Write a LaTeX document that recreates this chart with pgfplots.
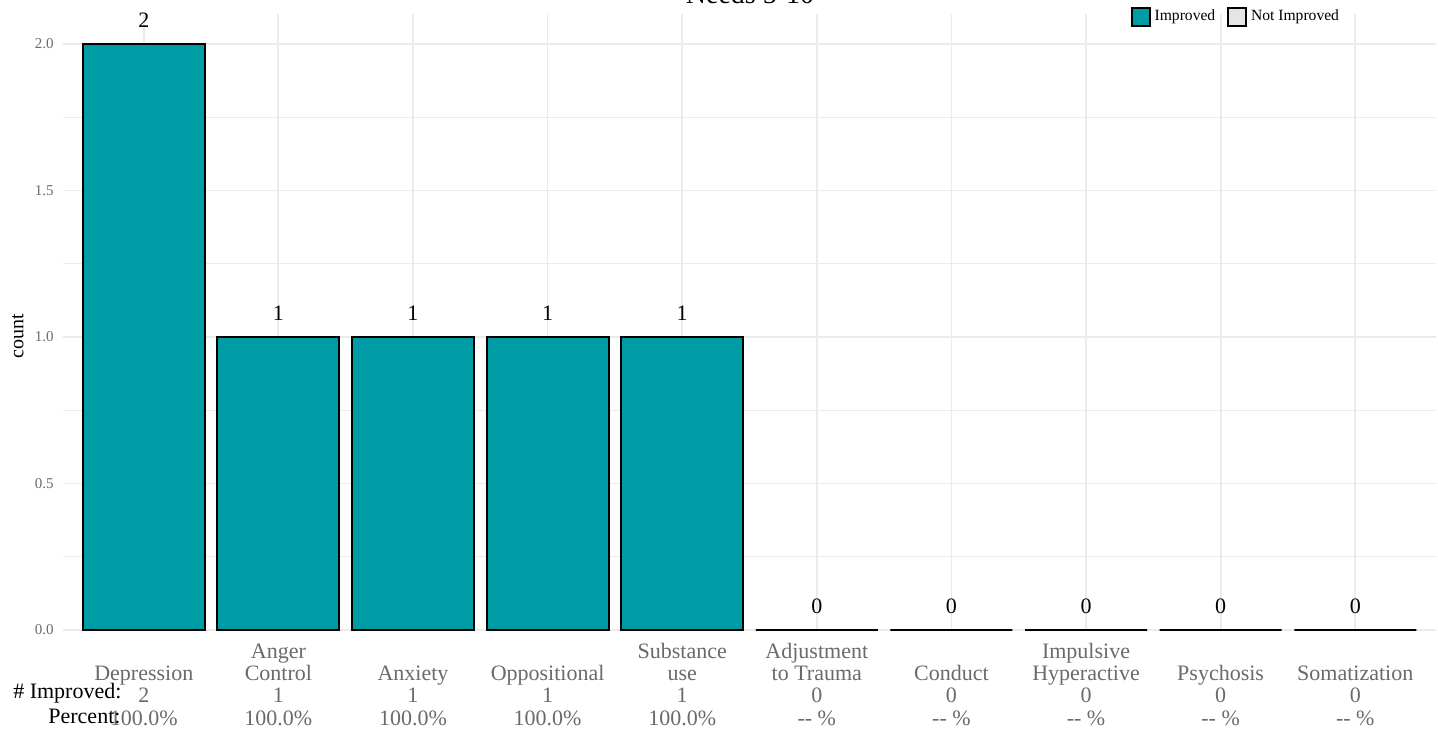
\documentclass[border=0pt]{standalone}
\usepackage{fontspec}
\setmainfont{Liberation Serif}
\usepackage{pgfplots}
\pgfplotsset{compat=1.18}
\definecolor{teal1}{HTML}{009CA6}
\definecolor{notimp}{HTML}{E5E5E5}
\definecolor{gridc}{HTML}{EBEBEB}
\definecolor{tickc}{HTML}{6A6A6A}
\pgfplotsset{mylegend/.style={legend image code/.code={\draw[##1, line width=0.9pt] (0pt,-4.5pt) rectangle (9pt,4.5pt);}}}
\begin{document}
\begin{tikzpicture}
\useasboundingbox (0,0) rectangle (719pt,367pt);
\node[anchor=base, font=\fontsize{14}{16}\selectfont] at (375pt,365pt) {Needs 5-10};
\begin{axis}[
  at={(31.5pt,52pt)}, anchor=south west,
  scale only axis, width=686.5pt, height=308pt,
  xmin=0.4, xmax=10.6, ymin=0, ymax=2.102,
  clip=false,
  ybar, bar width=61pt,
  axis line style={draw=none},
  major tick style={draw=none}, minor tick style={draw=none},
  xtick={1,2,3,4,5,6,7,8,9,10},
  xticklabels={
    {\strut\\Depression\\2\\100.0\%},
    {\strut Anger\\Control\\1\\100.0\%},
    {\strut\\Anxiety\\1\\100.0\%},
    {\strut\\Oppositional\\1\\100.0\%},
    {\strut Substance\\use\\1\\100.0\%},
    {\strut Adjustment\\to Trauma\\0\\-{}- \%},
    {\strut\\Conduct\\0\\-{}- \%},
    {\strut Impulsive\\Hyperactive\\0\\-{}- \%},
    {\strut\\Psychosis\\0\\-{}- \%},
    {\strut\\Somatization\\0\\-{}- \%}},
  xticklabel style={align=center, anchor=north, inner sep=0pt, yshift=-1.7pt, font=\fontsize{11}{11.2}\selectfont, text=tickc},
  ytick={0,0.5,1,1.5,2},
  minor ytick={0.25,0.75,1.25,1.75},
  ymajorgrids, xmajorgrids, yminorgrids,
  major grid style={gridc, line width=0.9pt},
  minor grid style={gridc, line width=0.5pt},
  /pgf/number format/assume math mode=true,
  yticklabel style={font=\fontsize{7.5}{9}\selectfont, text=tickc, inner sep=0pt, xshift=-4.5pt, /pgf/number format/fixed, /pgf/number format/fixed zerofill, /pgf/number format/precision=1},
  ylabel={count},
  ylabel style={at={(axis description cs:-0.0328,0.477)}, anchor=center, font=\fontsize{10}{12}\selectfont},
  nodes near coords,
  nodes near coords style={font=\fontsize{11}{12}\selectfont, text=black, anchor=south, inner sep=0pt, yshift=7.5pt, /pgf/number format/precision=0},
  legend columns=2,
  legend style={draw=none, fill=none, at={(axis description cs:0.855,0.995)}, anchor=center, font=\fontsize{7.8}{9}\selectfont, /tikz/every even column/.append style={column sep=4pt}},
]
\addplot[fill=teal1, draw=black, line width=1pt, mylegend] coordinates {(1,2) (2,1) (3,1) (4,1) (5,1) (6,0) (7,0) (8,0) (9,0) (10,0)};
\addlegendentry{Improved}
\addlegendimage{fill=notimp, draw=black, mylegend}
\addlegendentry{Not Improved}
\node[anchor=base east, font=\fontsize{11}{12}\selectfont, inner sep=0pt] at (axis cs:0.837,0) [yshift=-34.4pt] {\# Improved:};
\node[anchor=base east, font=\fontsize{11}{12}\selectfont, inner sep=0pt] at (axis cs:0.83,0) [yshift=-46.6pt] {Percent:};
\end{axis}
\end{tikzpicture}
\end{document}
